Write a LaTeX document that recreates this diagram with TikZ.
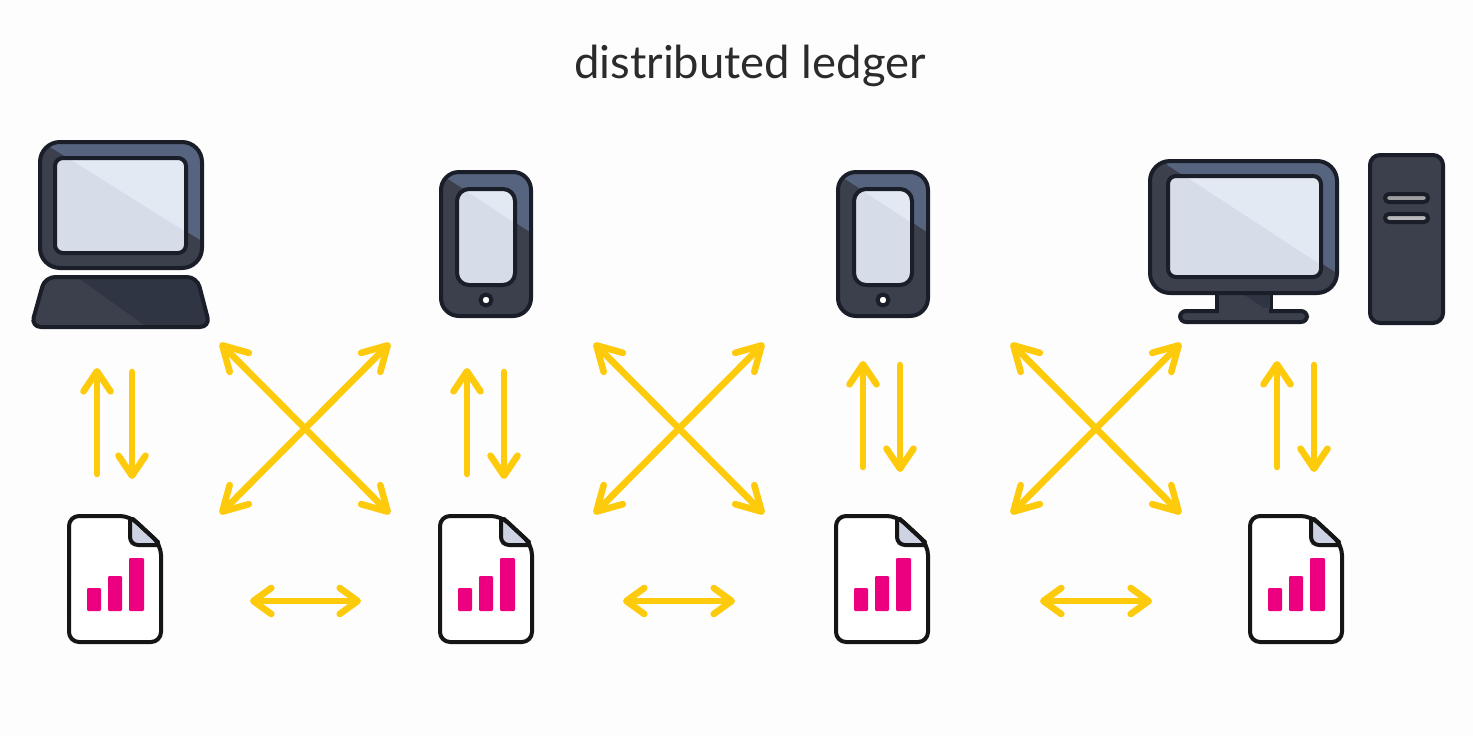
\documentclass[tikz,border=0pt]{standalone}
\usepackage{fontspec}
\setmainfont{Lato}
\usetikzlibrary{arrows.meta}
\definecolor{bgc}{HTML}{FDFDFD}
\definecolor{ink}{HTML}{1A1E28}
\definecolor{docink}{HTML}{151515}
\definecolor{bodyc}{HTML}{3C3F4C}
\definecolor{bodyhl}{HTML}{56647F}
\definecolor{keyc}{HTML}{2F3542}
\definecolor{scr}{HTML}{D6DCE8}
\definecolor{scrhl}{HTML}{E3E9F2}
\definecolor{goldc}{HTML}{FDCB0B}
\definecolor{pinkc}{HTML}{EC0080}
\definecolor{foldc}{HTML}{CDD3E3}
\definecolor{titlec}{HTML}{2B2B2B}
\tikzset{
  x=0.5pt,y=-0.5pt,
  outl/.style={draw=ink,line width=2pt,line join=round},
  docl/.style={draw=docink,line width=2pt,line join=round},
  link/.style={draw=goldc,line width=3.3pt,line cap=round,line join=round},
  uni/.style={link,-{Straight Barb[length=10pt,width=13.5pt,round]}},
  duo/.style={link,{Straight Barb[length=9pt,width=13pt,round]}-{Straight Barb[length=9pt,width=13pt,round]}},
  xduo/.style={link,{Straight Barb[length=12pt,width=13.5pt,round]}-{Straight Barb[length=12pt,width=13.5pt,round]}},
  barbar/.style={fill=pinkc,rounded corners=0.6pt},
  tablet/.pic={
    \diagpanel{(1,0)}{(91,144)}{9}{bodyc}{bodyhl}{(5,5)--(90,60)--(95,60)--(95,-3)--(5,-3)--cycle}
    \diagpanel{(17,17)}{(75,113)}{6}{scr}{scrhl}{(23,17)--(75,51)--(75,10)--(23,10)--cycle}
    \draw[outl,fill=white] (46,128) circle[radius=5.5];
  },
  docpic/.pic={
    \fill[white] (3,3)--(61,1)--(90,29)--(90,124)--(2,124)--cycle;
    \fill[foldc] (61,0)--(92,29)--(61,29)--cycle;
    \draw[docl,rounded corners=5pt] (0,0)--(61,0)--(92,29)--(92,126)--(0,126)--cycle;
    \draw[docl,rounded corners=4pt] (61,1)--(61,29)--(91,29);
    \draw[docl,line cap=round] (64,3)--(89,26);
    \fill[barbar] (18,72) rectangle (32,95);
    \fill[barbar] (39,60) rectangle (53,95);
    \fill[barbar] (60,42) rectangle (75,95);
  }
}
\newcommand\diagpanel[6]{%
  \begin{scope}
    \clip[rounded corners=#3] #1 rectangle #2;
    \fill[#4] #1 rectangle #2;
    \fill[#5] #6;
  \end{scope}
  \draw[outl,rounded corners=#3] #1 rectangle #2;
}
\begin{document}
\begin{tikzpicture}
\useasboundingbox (0,0) rectangle (1473,735);
\fill[bgc] (0,0) rectangle (1473,735);
\node[text=titlec,font=\fontsize{22.7}{27}\selectfont] (title) at (750,66) {distributed ledger};

% laptop
\diagpanel{(40,142)}{(202,268)}{10}{bodyc}{bodyhl}{(50,147)--(205,243)--(205,135)--(50,135)--cycle}
\diagpanel{(55,158)}{(186,253)}{4}{scr}{scrhl}{(68,158)--(186,232)--(186,150)--(68,150)--cycle}
\begin{scope}
  \clip[rounded corners=5pt] (45,277)--(197,277)--(210,327)--(31,327)--cycle;
  \fill[bodyc] (25,270) rectangle (215,330);
  \fill[keyc] (77,277)--(147,327)--(215,330)--(215,270)--(77,270)--cycle;
\end{scope}
\draw[outl,rounded corners=5pt] (45,277)--(197,277)--(210,327)--(31,327)--cycle;

% tablets
\pic at (440,172) {tablet};
\pic at (837,172) {tablet};

% monitor
\draw[outl,fill=bodyc] (1217,290) rectangle (1271,314);
\fill[keyc] (1240,292)--(1270,292)--(1270,312)--cycle;
\draw[outl,fill=bodyc,rounded corners=3pt] (1180,311) rectangle (1307,322);
\fill[bodyc] (1219,308) rectangle (1269,314);
\diagpanel{(1150,161)}{(1337,293)}{10}{bodyc}{bodyhl}{(1167,165)--(1340,275)--(1340,155)--(1167,155)--cycle}
\diagpanel{(1168,176)}{(1321,277)}{4}{scr}{scrhl}{(1185,176)--(1321,265)--(1321,170)--(1185,170)--cycle}

% tower
\draw[outl,fill=bodyc,rounded corners=5pt] (1370,155) rectangle (1443,323);
\draw[outl,fill=gray!75,rounded corners=2pt] (1385,194) rectangle (1428,202);
\draw[outl,fill=gray!55,rounded corners=2pt] (1385,214) rectangle (1428,222);

% documents
\pic at (69,516) {docpic};
\pic at (440,516) {docpic};
\pic at (836,516) {docpic};
\pic at (1250,516) {docpic};

% connector ends
\foreach \n/\ux/\dx/\ya/\yb in {1/97/132/474/368,2/467/504/474/368,3/863/900/467/361,4/1277/1314/467/361}{
  \pgfmathsetmacro{\ybb}{\yb+4}
  \pgfmathsetmacro{\yaa}{\ya+5}
  \coordinate (u\n a) at (\ux,\ya);
  \coordinate (u\n b) at (\ux,\yb);
  \coordinate (d\n a) at (\dx,\ybb);
  \coordinate (d\n b) at (\dx,\yaa);
  \draw[uni] (u\n a) -- (u\n b);
  \draw[uni] (d\n a) -- (d\n b);
}
\foreach \n/\l/\r in {1/220/390,2/594/764,3/1011/1181}{
  \coordinate (tl\n) at (\l,343);
  \coordinate (tr\n) at (\r,343);
  \coordinate (bl\n) at (\l,514);
  \coordinate (br\n) at (\r,514);
  \draw[xduo] (tl\n) -- (br\n);
  \draw[xduo] (bl\n) -- (tr\n);
}
\foreach \n/\l/\r in {1/250/361,2/623/735,3/1040/1152}{
  \coordinate (hl\n) at (\l,601);
  \coordinate (hr\n) at (\r,601);
  \draw[duo] (hl\n) -- (hr\n);
}
\end{tikzpicture}
\end{document}
